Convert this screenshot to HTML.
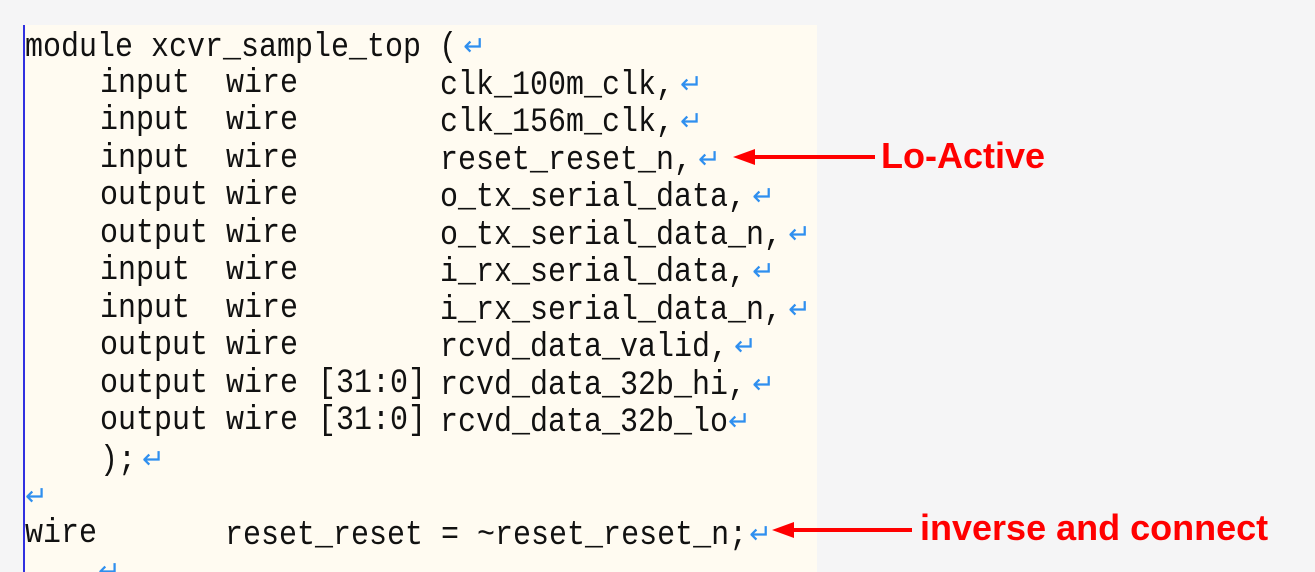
<!DOCTYPE html>
<html><head><meta charset="utf-8"><style>
html,body{margin:0;width:1315px;height:572px;overflow:hidden;}
body{background:#f5f5f6;position:relative;font-family:"Liberation Mono",monospace;}
#panel{position:absolute;left:23px;top:25px;width:792px;height:547px;background:#fffbf1;border-left:2px solid #3030e0;}
.t{position:absolute;font-size:30px;line-height:37.5px;white-space:pre;color:#111;transform:scaleY(1.15);transform-origin:0 50%;}
.r{color:#2f8fef;font-family:"DejaVu Sans",sans-serif;font-size:27px;margin-left:6px;display:inline-block;transform:scaleY(0.87);}
.lab{position:absolute;color:#f00;font-family:"Liberation Sans",sans-serif;font-weight:bold;font-size:36px;line-height:40px;}
</style></head><body>
<div id="panel"></div>
<div class="t" style="left:25px;top:28px">module xcvr_sample_top (<span class="r">↵</span></div>

<div class="t" style="left:100px;top:66px">input  wire</div><div class="t" style="left:440px;top:66px">clk_100m_clk,<span class="r">↵</span></div>
<div class="t" style="left:100px;top:103px">input  wire</div><div class="t" style="left:440px;top:103px">clk_156m_clk,<span class="r">↵</span></div>
<div class="t" style="left:100px;top:141px">input  wire</div><div class="t" style="left:440px;top:141px">reset_reset_n,<span class="r">↵</span></div>
<div class="t" style="left:100px;top:178px">output wire</div><div class="t" style="left:440px;top:178px">o_tx_serial_data,<span class="r">↵</span></div>
<div class="t" style="left:100px;top:216px">output wire</div><div class="t" style="left:440px;top:216px">o_tx_serial_data_n,<span class="r">↵</span></div>
<div class="t" style="left:100px;top:253px">input  wire</div><div class="t" style="left:440px;top:253px">i_rx_serial_data,<span class="r">↵</span></div>
<div class="t" style="left:100px;top:291px">input  wire</div><div class="t" style="left:440px;top:291px">i_rx_serial_data_n,<span class="r">↵</span></div>
<div class="t" style="left:100px;top:328px">output wire</div><div class="t" style="left:440px;top:328px">rcvd_data_valid,<span class="r">↵</span></div>
<div class="t" style="left:100px;top:366px">output wire</div><div class="t" style="left:318px;top:366px">[31:0]</div><div class="t" style="left:440px;top:366px">rcvd_data_32b_hi,<span class="r">↵</span></div>
<div class="t" style="left:100px;top:403px">output wire</div><div class="t" style="left:318px;top:403px">[31:0]</div><div class="t" style="left:440px;top:403px">rcvd_data_32b_lo<span class="r" style="margin-left:0">↵</span></div>
<div class="t" style="left:100px;top:441px">);<span class="r">↵</span></div>
<div class="t" style="left:19px;top:478px"><span class="r">↵</span></div>
<div class="t" style="left:25px;top:516px">wire</div><div class="t" style="left:225px;top:516px">reset_reset = ~reset_reset_n;<span class="r" style="margin-left:2px">↵</span></div>
<div class="t" style="left:92px;top:553px"><span class="r">↵</span></div>

<svg style="position:absolute;left:0;top:0" width="1315" height="572">
<line x1="750" y1="157" x2="875" y2="157" stroke="#f00" stroke-width="4"/>
<polygon points="733,157 755,149 755,165" fill="#f00"/>
<line x1="790" y1="530" x2="912" y2="530" stroke="#f00" stroke-width="4"/>
<polygon points="772,530 794,522 794,538" fill="#f00"/>
</svg>
<div class="lab" style="left:881px;top:136px">Lo-Active</div>
<div class="lab" style="left:920px;top:508px">inverse and connect</div>
</body></html>
